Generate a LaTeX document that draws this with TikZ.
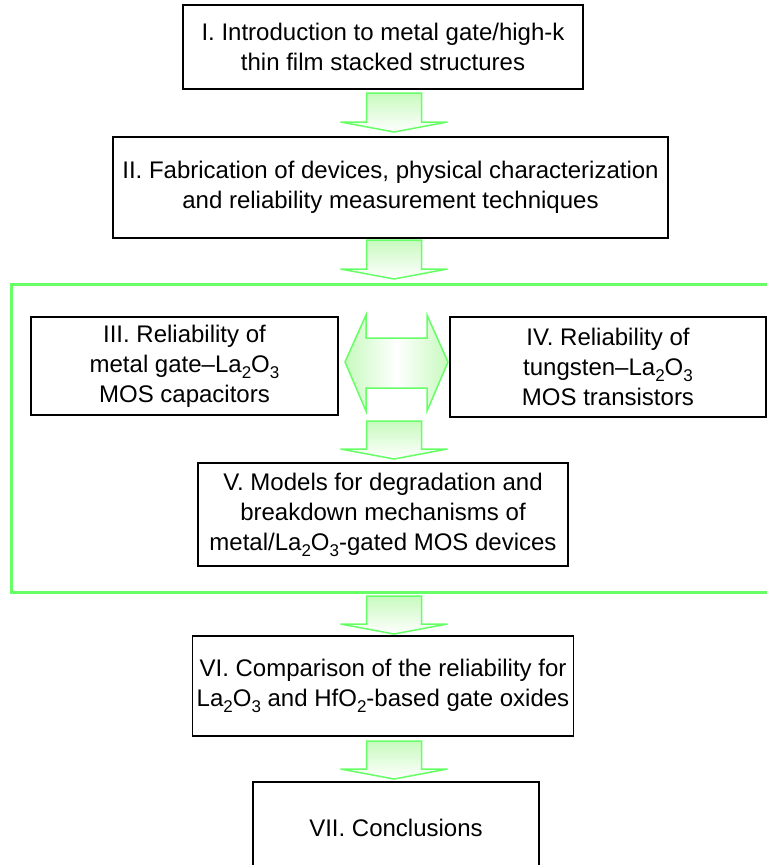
\documentclass[tikz,border=0pt]{standalone}
\usepackage{fontspec}
\setmainfont{Liberation Sans}
\usetikzlibrary{calc}
\definecolor{arrowline}{RGB}{102,255,102}
\definecolor{arrowfill}{RGB}{200,250,190}
\definecolor{framegreen}{RGB}{102,255,102}
\newcommand{\sbs}[1]{\raisebox{-6pt}{\fontsize{17}{17}\selectfont #1}}
\tikzset{
  box/.style={draw=black, line width=1.5pt, fill=white, align=center, inner sep=4pt,
    font=\fontsize{24}{30}\selectfont},
  downarrow/.style={draw=arrowline, line width=1.5pt, top color=arrowfill, bottom color=white, line join=miter},
  sidearrow/.style={draw=arrowline, line width=1.5pt, left color=arrowfill, right color=arrowfill, middle color=white, line join=miter},
  frame/.style={draw=framegreen, line width=3pt}
}
% block arrow pointing down: centre x, top y, bottom y
\newcommand{\blockdown}[3]{%
  \path[downarrow] (#1-27.5,#2) -- (#1+27.5,#2) -- (#1+27.5,#3-10) -- (#1+53.5,#3-10)
    -- (#1,#3) -- (#1-53.5,#3-10) -- (#1-27.5,#3-10) -- cycle;}
\begin{document}
\begin{tikzpicture}[x=1pt,y=-1pt]
\useasboundingbox (0,0) rectangle (767,865);
\clip (0,0) rectangle (767,865);
\fill[white] (0,0) rectangle (767,865);

% green frame grouping III, IV, V
\draw[frame] (11,284) rectangle (800,592);

\node[box, minimum width=400pt, minimum height=84pt] (b1) at (383,47)
  {I. Introduction to metal gate/high-k\\thin film stacked structures};
\node[box, minimum width=555pt, minimum height=101pt] (b2) at (390.5,187.5)
  {II. Fabrication of devices, physical characterization\\and reliability measurement techniques};
\node[box, minimum width=307pt, minimum height=98pt] (b3) at (184.5,366)
  {III. Reliability of\\metal gate--La\sbs{2}O\sbs{3}\\MOS capacitors};
\node[box, minimum width=316pt, minimum height=100pt] (b4) at (608,367)
  {IV. Reliability of\\tungsten--La\sbs{2}O\sbs{3}\\MOS transistors};
\node[box, minimum width=370pt, minimum height=103pt] (b5) at (383,514.5)
  {V. Models for degradation and\\breakdown mechanisms of\\metal/La\sbs{2}O\sbs{3}-gated MOS devices};
\node[box, minimum width=278pt, minimum height=100pt] (b6) at (383,686)
  {VI. Comparison of the reliability for\\La\sbs{2}O\sbs{3} and HfO\sbs{2}-based gate oxides};
\node[box, minimum width=286pt, minimum height=92pt] (b7) at (396,828)
  {VII. Conclusions};

% block arrows between the stages
\blockdown{394}{93}{132}
\blockdown{394}{240}{279}
\blockdown{394}{421}{459}
\blockdown{394}{596}{634}
\blockdown{394}{741}{779}

% double arrow between III and IV
\path[sidearrow] (345,362) -- (366,315) -- (366,338) -- (427,338) -- (427,315)
  -- (448,362) -- (427,411) -- (427,388) -- (366,388) -- (366,411) -- cycle;
\end{tikzpicture}
\end{document}
